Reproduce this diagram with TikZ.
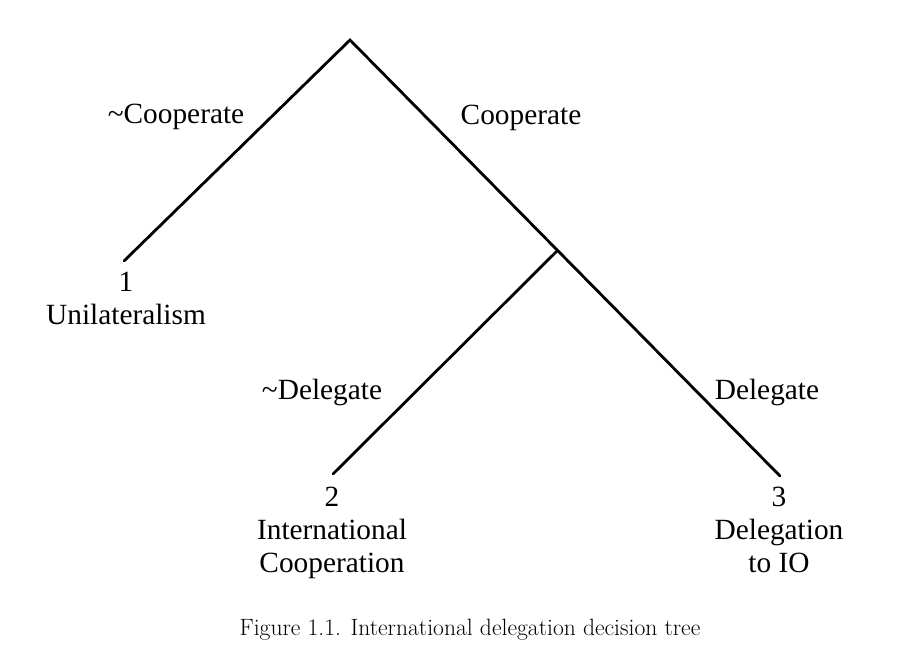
\documentclass[tikz,border=0pt]{standalone}
\usepackage{fontspec}
\newfontfamily\timesfont{Liberation Serif}
\begin{document}
\begin{tikzpicture}[x=0.75pt,y=-0.75pt,
  branch/.style={line width=2.1pt, line cap=round},
  lbl/.style={font=\timesfont\fontsize{22}{18}\selectfont, inner sep=0pt},
  leaf/.style={font=\timesfont\fontsize{22}{24.5}\selectfont, align=center, inner sep=0pt, anchor=north},
  capt/.style={font=\fontsize{17.7}{22}\selectfont, inner sep=0pt}]
\useasboundingbox (0,0) rectangle (918,666);
\coordinate (apex) at (350,40);
\coordinate (e1) at (124,261);
\coordinate (br) at (557,251);
\coordinate (e2) at (333,474);
\coordinate (e3) at (780,476);
\draw[branch] (e1) -- (apex) -- (e3);
\draw[branch] (br) -- (e2);
\node[lbl] (ncoop) at (176,117) {\textasciitilde Cooperate};
\node[lbl] (coop) at (521,118) {Cooperate};
\node[lbl] (ndel) at (322,392) {\textasciitilde Delegate};
\node[lbl] (del) at (767,392) {Delegate};
\node[leaf] (l1) at (126,272) {1\\Unilateralism};
\node[leaf] (l2) at (332,487) {2\\International\\Cooperation};
\node[leaf] (l3) at (779,487) {3\\Delegation\\to IO};
\node[capt] (cap) at (470,630) {Figure \oldstylenums{1.1}. International delegation decision tree};
\end{tikzpicture}
\end{document}
